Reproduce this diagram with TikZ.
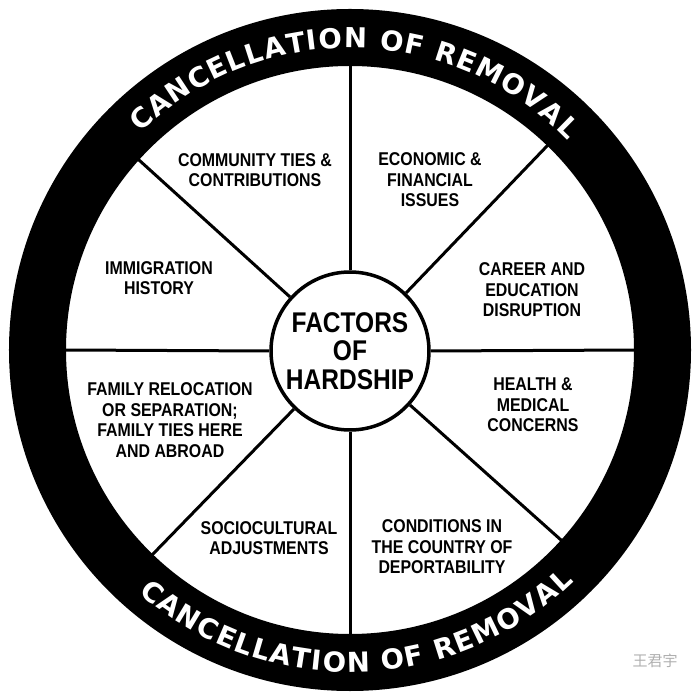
\documentclass[tikz,border=0pt]{standalone}
\usepackage{fontspec}
\usetikzlibrary{decorations.text}
\newfontfamily\labelfont{Liberation Sans}[FakeStretch=0.86]
\newfontfamily\ringfont{DejaVu Sans}
\newfontfamily\cjkfont{Noto Sans CJK SC}
\definecolor{markgray}{RGB}{175,175,175}

\begin{document}
\begin{tikzpicture}[x=1pt,y=1pt,line cap=round,line join=round,
    factor/.style={font=\labelfont\bfseries\fontsize{18.5}{20.5}\selectfont,align=center,inner sep=0pt},
    hub/.style={circle,draw,line width=3.5pt,fill=white,minimum size=158pt,inner sep=0pt,
        font=\labelfont\bfseries\fontsize{28.5}{28.5}\selectfont,align=center},
    spoke/.style={line width=3pt,line cap=butt}]
    \useasboundingbox (-350,-350) rectangle (350,350);

    % Anillo exterior
    \fill[even odd rule] (0,0) circle (341) (0,0) circle (284);
    \path[decorate,decoration={text along path,text align={fit to path},text color=white,
        text={|\ringfont\bfseries\fontsize{27.5}{27.5}\selectfont|CANCELLATION OF REMOVAL}}]
        (134:302) arc[start angle=134,end angle=44,radius=302];
    \path[decorate,decoration={text along path,text align={fit to path},text color=white,
        text={|\ringfont\bfseries\fontsize{27.5}{27.5}\selectfont|CANCELLATION OF REMOVAL}}]
        (229:322) arc[start angle=229,end angle=314,radius=322];

    % Puntos de los radios sobre el anillo
    \coordinate (r0) at (0:286);
    \coordinate (r46) at (46:286);
    \coordinate (r90) at (90:286);
    \coordinate (r138) at (138:286);
    \coordinate (r180) at (180:286);
    \coordinate (r226) at (226:286);
    \coordinate (r270) at (270:286);
    \coordinate (r318) at (318:286);

    % Centro
    \node[hub] (hub) at (0,-1) {FACTORS\\OF\\HARDSHIP};

    % Radios
    \draw[spoke] (hub.0) -- (r0);
    \draw[spoke] (hub.46) -- (r46);
    \draw[spoke] (hub.90) -- (r90);
    \draw[spoke] (hub.138) -- (r138);
    \draw[spoke] (hub.180) -- (r180);
    \draw[spoke] (hub.226) -- (r226);
    \draw[spoke] (hub.270) -- (r270);
    \draw[spoke] (hub.318) -- (r318);

    % Factores
    \node[factor] (community) at (-95,180) {COMMUNITY TIES \&\\CONTRIBUTIONS};
    \node[factor] (economic) at (80,170) {ECONOMIC \&\\FINANCIAL\\ISSUES};
    \node[factor] (career) at (182,60) {CAREER AND\\EDUCATION\\DISRUPTION};
    \node[factor] (immigration) at (-191,72) {IMMIGRATION\\HISTORY};
    \node[factor] (family) at (-180,-70) {FAMILY RELOCATION\\OR SEPARATION;\\FAMILY TIES HERE\\AND ABROAD};
    \node[factor] (health) at (183,-55) {HEALTH \&\\MEDICAL\\CONCERNS};
    \node[factor] (socio) at (-81,-188) {SOCIOCULTURAL\\ADJUSTMENTS};
    \node[factor] (conditions) at (92,-197) {CONDITIONS IN\\THE COUNTRY OF\\DEPORTABILITY};

    % Marca de agua
    \node[markgray,font=\cjkfont\fontsize{15}{15}\selectfont] (mark) at (305,-311) {王君宇};

\end{tikzpicture}
\end{document}
